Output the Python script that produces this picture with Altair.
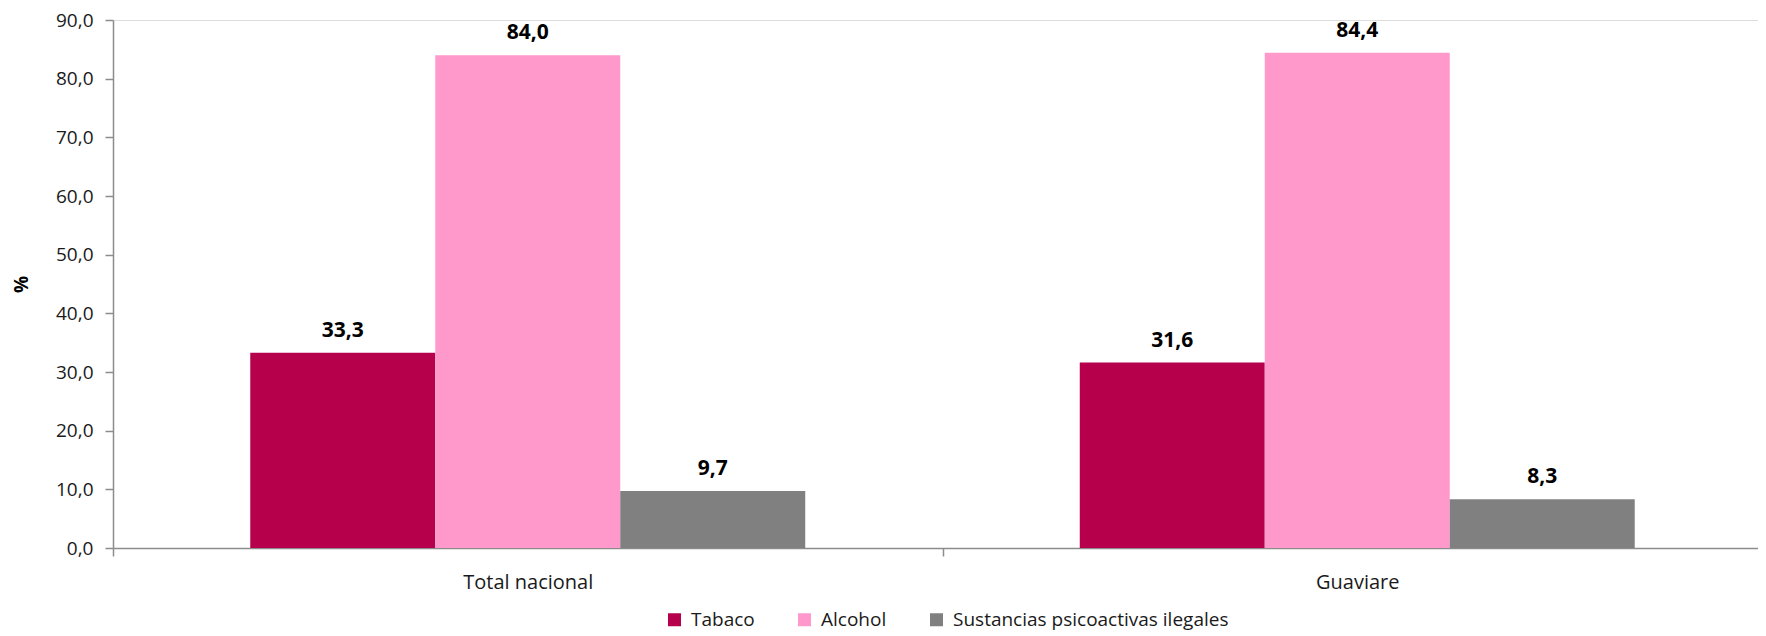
import altair as alt
import pandas as pd

groups = ["Total nacional", "Guaviare"]
series = ["Tabaco", "Alcohol", "Sustancias psicoactivas ilegales"]
colors = ["#B6004B", "#FF99CC", "#808080"]
tabaco = [33.3, 31.6]
alcohol = [84.0, 84.4]
sustancias = [9.7, 8.3]
y_ticks = [0, 10, 20, 30, 40, 50, 60, 70, 80, 90]

rows = []
for i, g in enumerate(groups):
    for s, vals in zip(series, [tabaco, alcohol, sustancias]):
        rows.append({"group": g, "series": s, "value": vals[i]})
df = pd.DataFrame(rows)

FONT = "Open Sans"

base = alt.Chart(df).transform_calculate(
    label="replace(format(datum.value, '.1f'), '.', ',')"
).encode(
    x=alt.X(
        "group:N",
        sort=groups,
        scale=alt.Scale(paddingInner=0, paddingOuter=0, range=[0, 1659]),
        axis=alt.Axis(
            title=None,
            tickBand="extent",
            labelAngle=0,
            labelFontSize=20,
            labelColor="#1a1a1a",
            labelPadding=16,
            tickSize=8,
            tickColor="#8C8C8C",
            domainColor="#8C8C8C",
            domainWidth=1.5,
            tickWidth=1.5,
        ),
    ),
    xOffset=alt.XOffset(
        "series:N", sort=series, scale=alt.Scale(paddingInner=0, paddingOuter=0.742)
    ),
    y=alt.Y(
        "value:Q",
        scale=alt.Scale(domain=[0, 90], nice=False),
        axis=alt.Axis(
            title="%",
            titleFontSize=19,
            titleFontWeight="bold",
            titleColor="#000000",
            titleAngle=270,
            titleX=-92,
            titleY=264,
            titleAlign="center",
            titleBaseline="middle",
            values=y_ticks,
            labelExpr="replace(format(datum.value, '.1f'), '.', ',')",
            labelFontSize=19,
            labelColor="#1a1a1a",
            labelPadding=12,
            tickSize=8,
            tickColor="#8C8C8C",
            domainColor="#8C8C8C",
            domainWidth=1.5,
            tickWidth=1.5,
            grid=False,
        ),
    ),
)

bars = base.mark_bar().encode(
    color=alt.Color(
        "series:N",
        sort=series,
        scale=alt.Scale(domain=series, range=colors),
        legend=alt.Legend(
            title=None,
            orient="none",
            direction="horizontal",
            legendX=552,
            legendY=590,
            symbolType="square",
            symbolSize=169,
            symbolStrokeWidth=0,
            labelFontSize=19,
            labelColor="#1a1a1a",
            labelOffset=7,
            columnPadding=40,
            labelLimit=500,
            padding=0,
        ),
    )
)

labels = base.mark_text(
    baseline="alphabetic",
    dy=-16,
    fontSize=21,
    fontWeight="bold",
    color="#000000",
).encode(text="label:N")

chart = alt.layer(bars, labels).properties(
    width=1645,
    height=528,
    padding={"left": 105, "top": 12, "right": 0, "bottom": 88},
    autosize=alt.AutoSizeParams(type="none"),
).configure_view(stroke=None).configure(font=FONT)

chart.save("out.html", embed_options={"renderer": "svg", "actions": False})
